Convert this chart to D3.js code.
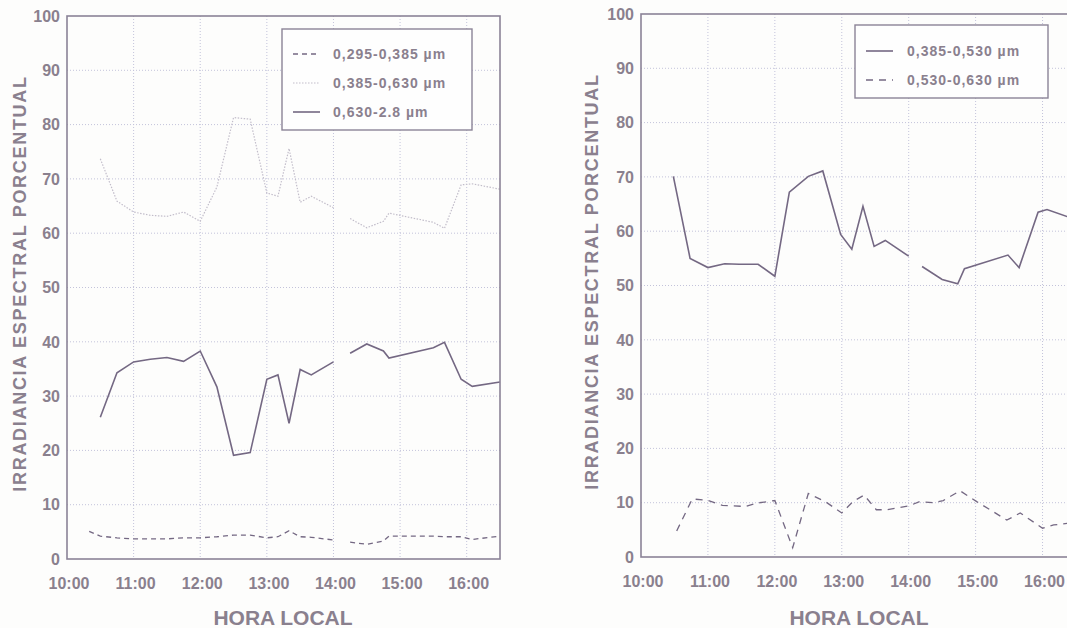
<!DOCTYPE html>
<html>
<head>
<meta charset="utf-8">
<script src="https://cdn.jsdelivr.net/npm/d3@7"></script>
<style>
  body { margin: 0; background: #fdfdfc; }
  text { font-family: "Liberation Sans", Arial, sans-serif; font-weight: bold; fill: #8a808e; }
</style>
</head>
<body>
<script>
// ---- data (time as HH:MM, value in %) ----
const hourTicks = ["10:00", "11:00", "12:00", "13:00", "14:00", "15:00", "16:00"];
const yTicks = [0, 10, 20, 30, 40, 50, 60, 70, 80, 90, 100];

// left panel: one shared time grid, null = no reading (gap after 14:00)
const leftTimes = ["10:20","10:30","10:45","11:00","11:15","11:30","11:45","12:00","12:15","12:30","12:45",
  "13:00","13:10","13:20","13:30","13:40","14:00","14:07","14:15","14:30","14:45","14:50",
  "15:30","15:40","15:55","16:05","16:30"];
const uv295 = [5.1,4.2,3.9,3.7,3.7,3.7,3.9,3.9,4.1,4.4,4.4,
  3.9,4.1,5.2,4.1,4.0,3.5,null,3.1,2.7,3.3,4.2,
  4.2,4.1,4.1,3.6,4.2];
const vis385 = [null,73.7,65.9,63.9,63.3,63.1,63.9,62.2,68.5,81.3,81.0,
  67.4,66.8,75.6,65.7,66.8,64.7,null,62.7,61.0,62.2,63.7,
  62.0,60.9,68.9,69.1,68.1];
const ir630 = [null,26.1,34.3,36.3,36.8,37.1,36.4,38.3,31.7,19.1,19.6,
  33.1,33.9,25.0,34.9,33.9,36.3,null,37.9,39.6,38.3,37.0,
  38.9,39.9,33.1,31.8,32.6];

// right panel: each series has its own readings
const blueTimes = ["10:29","10:44","11:00","11:15","11:28","11:45","12:00","12:13","12:30","12:43",
  "12:59","13:09","13:19","13:29","13:39","14:00","14:06","14:12","14:30","14:44","14:50",
  "15:29","15:39","15:56","16:04","16:22","16:30"];
const blue385 = [70.1,55.0,53.3,54.0,53.9,53.9,51.7,67.2,70.1,71.1,
  59.4,56.7,64.6,57.2,58.3,55.4,null,53.5,51.1,50.3,53.1,
  55.6,53.3,63.5,64.0,62.7,62.4];
const greenTimes = ["10:32","10:46","11:00","11:13","11:34","11:43","12:00","12:16","12:30","12:46",
  "13:00","13:10","13:20","13:31","13:40","14:00","14:10","14:22","14:31","14:46","15:01",
  "15:28","15:40","16:00","16:10","16:22"];
const green530 = [4.8,10.7,10.4,9.5,9.3,9.9,10.4,1.7,11.7,10.1,
  8.1,10.2,11.4,8.7,8.7,9.4,10.2,10.0,10.4,12.2,10.2,
  6.8,8.1,5.3,5.9,6.2];

const ink = "#746883";
const frame = "#8b8397";
const gridCol = "#c3c3da";

function hours(s) {
  const p = s.split(":").map(Number);
  return p[0] + p[1] / 60;
}

const width = 1067, height = 628;
const svg = d3.select("body").append("svg")
  .attr("width", width)
  .attr("height", height);

function drawChart(o) {
  const g = svg.append("g");
  const x = d3.scaleLinear().domain([10, 16.5]).range([o.left, o.right]);
  const y = d3.scaleLinear().domain([0, 100]).range([o.bottom, o.top]);

  // dotted grid
  g.selectAll(".gy").data(yTicks.filter(v => v > 0 && v < 100)).join("line")
    .attr("x1", o.left).attr("x2", o.right)
    .attr("y1", d => y(d)).attr("y2", d => y(d))
    .attr("stroke", gridCol).attr("stroke-width", 1).attr("stroke-dasharray", "1,2");
  g.selectAll(".gx").data(hourTicks.slice(1)).join("line")
    .attr("x1", d => x(hours(d))).attr("x2", d => x(hours(d)))
    .attr("y1", o.top).attr("y2", o.bottom)
    .attr("stroke", gridCol).attr("stroke-width", 1).attr("stroke-dasharray", "1,2");

  // series
  const line = d3.line()
    .defined(d => d.v != null)
    .x(d => x(hours(d.t)))
    .y(d => y(d.v));
  o.series.forEach(s => {
    const pts = s.times.map((t, i) => ({t: t, v: s.values[i]}));
    g.append("path")
      .datum(pts)
      .attr("d", line)
      .attr("fill", "none")
      .attr("stroke", s.color)
      .attr("stroke-width", s.w)
      .attr("stroke-dasharray", s.dash);
  });

  // frame
  g.append("rect")
    .attr("x", o.left).attr("y", o.top)
    .attr("width", o.right - o.left).attr("height", o.bottom - o.top)
    .attr("fill", "none").attr("stroke", frame).attr("stroke-width", 1.6);

  // tick labels
  g.selectAll(".yl").data(yTicks).join("text")
    .attr("x", o.left - 7).attr("y", d => y(d))
    .attr("dy", "0.36em").attr("text-anchor", "end")
    .attr("font-size", 16)
    .text(d => d);
  g.selectAll(".xl").data(hourTicks).join("text")
    .attr("x", d => x(hours(d)) + 2).attr("y", o.bottom + 30)
    .attr("text-anchor", "middle")
    .attr("font-size", 16)
    .text(d => d);

  // axis titles
  g.append("text")
    .attr("x", o.titleX)
    .attr("y", 625)
    .attr("text-anchor", "middle")
    .attr("font-size", 21)
    .text("HORA LOCAL");
  g.append("text")
    .attr("transform", `translate(${o.yTitleX},${(o.top + o.bottom) / 2 - 4}) rotate(-90)`)
    .attr("dy", "0.36em")
    .attr("text-anchor", "middle")
    .attr("font-size", 18)
    .attr("letter-spacing", 1.7)
    .text("IRRADIANCIA ESPECTRAL PORCENTUAL");

  // legend
  const L = o.legend;
  g.append("rect")
    .attr("x", L.x).attr("y", L.y).attr("width", L.w).attr("height", L.h)
    .attr("fill", "#fefefe").attr("stroke", frame).attr("stroke-width", 1.4);
  L.rows.forEach((r, i) => {
    const ry = L.y + L.first + i * L.step;
    g.append("line")
      .attr("x1", L.x + 11).attr("x2", L.x + 38)
      .attr("y1", ry).attr("y2", ry)
      .attr("stroke", r.s.color).attr("stroke-width", r.s.w)
      .attr("stroke-dasharray", r.s.dash);
    g.append("text")
      .attr("x", L.x + L.tx).attr("y", ry)
      .attr("dy", "0.36em")
      .attr("font-size", 14)
      .attr("letter-spacing", 1)
      .text(r.label);
  });
}

const sDash = {color: ink, w: 1.3, dash: "5,4"};
const sDot = {color: "#c2bdca", w: 1.2, dash: "1.5,1.5"};
const sSolid = {color: ink, w: 1.6, dash: null};
const sDash2 = {color: ink, w: 1.3, dash: "7,6"};

drawChart({
  left: 67, right: 500, top: 16, bottom: 559,
  yTitleX: 20, titleX: 283,
  series: [
    Object.assign({times: leftTimes, values: uv295}, sDash),
    Object.assign({times: leftTimes, values: vis385}, sDot),
    Object.assign({times: leftTimes, values: ir630}, sSolid)
  ],
  legend: {x: 282, y: 29, w: 190, h: 101, first: 25, step: 29, tx: 51,
    rows: [
      {label: "0,295-0,385 µm", s: sDash},
      {label: "0,385-0,630 µm", s: sDot},
      {label: "0,630-2.8 µm", s: sSolid}
    ]}
});

drawChart({
  left: 641, right: 1076, top: 14, bottom: 557,
  yTitleX: 592, titleX: 859,
  series: [
    Object.assign({times: blueTimes, values: blue385}, sSolid),
    Object.assign({times: greenTimes, values: green530}, sDash2)
  ],
  legend: {x: 855, y: 25, w: 193, h: 73, first: 26, step: 29, tx: 52,
    rows: [
      {label: "0,385-0,530 µm", s: sSolid},
      {label: "0,530-0,630 µm", s: sDash2}
    ]}
});
</script>
</body>
</html>
